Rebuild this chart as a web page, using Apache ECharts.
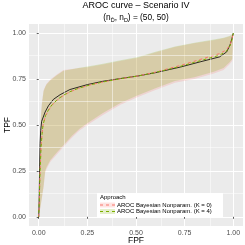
<!DOCTYPE html>
<html><head><meta charset="utf-8">
<script src="https://cdn.jsdelivr.net/npm/echarts@6/dist/echarts.min.js"></script>
<style>html,body{margin:0;padding:0;background:#fff}#c{width:245px;height:245px}</style>
</head><body><div id="c"></div>
<script>
// ---- data ----
const tickValues = [0, 0.25, 0.5, 0.75, 1];
const minorValues = [0.125, 0.375, 0.625, 0.875];

const trueFpf = [0, 0.002, 0.004, 0.007, 0.010, 0.015, 0.033, 0.05, 0.076, 0.11, 0.16, 0.25, 0.33, 0.42, 0.51, 0.60, 0.73, 0.83, 0.93, 0.966, 0.983, 0.993, 1];
const trueTpf = [0, 0.10, 0.25, 0.40, 0.47, 0.52, 0.571, 0.605, 0.64, 0.665, 0.693, 0.72, 0.738, 0.753, 0.767, 0.785, 0.816, 0.844, 0.871, 0.898, 0.935, 0.97, 1];

const k0Fpf = [0, 0.003, 0.007, 0.012, 0.017, 0.022, 0.035, 0.05, 0.068, 0.10, 0.127, 0.16, 0.204, 0.27, 0.333, 0.42, 0.51, 0.60, 0.73, 0.83, 0.93, 0.966, 0.985, 0.995, 1];
const k0Tpf = [0, 0.10, 0.25, 0.38, 0.45, 0.50, 0.55, 0.58, 0.608, 0.64, 0.66, 0.68, 0.699, 0.72, 0.735, 0.752, 0.767, 0.788, 0.825, 0.857, 0.889, 0.91, 0.94, 0.975, 1];

const k4Fpf = [0, 0.003, 0.007, 0.012, 0.017, 0.022, 0.035, 0.05, 0.068, 0.10, 0.127, 0.16, 0.204, 0.27, 0.333, 0.42, 0.51, 0.60, 0.73, 0.83, 0.93, 0.966, 0.985, 0.995, 1];
const k4Tpf = [0, 0.10, 0.25, 0.38, 0.45, 0.50, 0.552, 0.582, 0.61, 0.642, 0.662, 0.681, 0.70, 0.72, 0.735, 0.752, 0.767, 0.786, 0.82, 0.85, 0.88, 0.903, 0.935, 0.972, 1];

const bandFpf = [0, 0.003, 0.006, 0.011, 0.016, 0.025, 0.033, 0.04, 0.06, 0.093, 0.127, 0.17, 0.21, 0.25, 0.33, 0.42, 0.51, 0.60, 0.70, 0.80, 0.90, 0.95, 0.98, 0.995, 1];
const k0Upper = [0, 0.20, 0.40, 0.544, 0.617, 0.689, 0.71, 0.725, 0.748, 0.775, 0.80, 0.805, 0.81, 0.815, 0.83, 0.848, 0.866, 0.895, 0.925, 0.945, 0.962, 0.972, 0.982, 0.992, 1];
const k0Lower = [0, 0.02, 0.035, 0.065, 0.10, 0.16, 0.24, 0.26, 0.30, 0.34, 0.38, 0.43, 0.47, 0.50, 0.555, 0.61, 0.652, 0.69, 0.73, 0.75, 0.78, 0.80, 0.83, 0.85, 1];
const k4Upper = [0, 0.20, 0.40, 0.54, 0.612, 0.684, 0.705, 0.72, 0.744, 0.771, 0.796, 0.804, 0.812, 0.818, 0.834, 0.852, 0.87, 0.899, 0.928, 0.948, 0.965, 0.975, 0.984, 0.993, 1];
const k4Lower = [0, 0.025, 0.04, 0.07, 0.105, 0.17, 0.25, 0.27, 0.31, 0.35, 0.39, 0.44, 0.48, 0.51, 0.565, 0.62, 0.662, 0.70, 0.74, 0.76, 0.79, 0.81, 0.84, 0.86, 1];

const seriesNames = ['AROC Bayesian Nonparam. (K = 0)', 'AROC Bayesian Nonparam. (K = 4)'];
const seriesColors = ['#F8766D', '#7CAE00'];

// ---- helpers ----
const pairs = (xs, ys) => xs.map((x, i) => [x, ys[i]]);
function bandSeries(upper, lower, color) {
  return {
    type: 'custom', z: 2, silent: true,
    data: [[0, 0]],
    renderItem: function (params, api) {
      const pts = [];
      for (let i = 0; i < bandFpf.length; i++) pts.push(api.coord([bandFpf[i], upper[i]]));
      for (let i = bandFpf.length - 1; i >= 0; i--) pts.push(api.coord([bandFpf[i], lower[i]]));
      return { type: 'polygon', shape: { points: pts }, style: { fill: color, opacity: 0.2 } };
    }
  };
}
const FONT = 'Liberation Sans, Arial, sans-serif';
const axisCommon = {
  type: 'value', min: -0.05, max: 1.05,
  axisLine: { show: false },
  axisTick: { show: true, customValues: tickValues, length: 2, lineStyle: { color: '#333333', width: 0.8 } },
  axisLabel: { customValues: tickValues, formatter: v => v.toFixed(2), color: '#4D4D4D', fontSize: 7, fontFamily: FONT },
  splitLine: { show: true, lineStyle: { color: '#FFFFFF', width: 1 } },
  nameMoveOverlap: false,
  nameTextStyle: { color: '#000', fontSize: 8.5, fontFamily: FONT }
};

const chart = echarts.init(document.getElementById('c'), null, { renderer: 'canvas' });
chart.setOption({
  animation: false,
  backgroundColor: '#FFFFFF',
  grid: { left: 29, right: 2, top: 24, bottom: 19, show: true, backgroundColor: '#EBEBEB', borderWidth: 0, containLabel: false, outerBoundsMode: 'none' },
  xAxis: Object.assign({}, axisCommon, {
    name: 'FPF', nameLocation: 'middle', nameGap: 10,
    axisLabel: Object.assign({}, axisCommon.axisLabel, { margin: 4 })
  }),
  yAxis: Object.assign({}, axisCommon, {
    name: 'TPF', nameLocation: 'middle', nameGap: 17, nameRotate: 90,
    axisLabel: Object.assign({}, axisCommon.axisLabel, { margin: 3 })
  }),
  graphic: [
    { type: 'rect', shape: { x: 97, y: 193, width: 126, height: 24 }, style: { fill: '#FFFFFF' }, z: 10 },
    { type: 'text', x: 100, y: 194, z: 11, style: { text: 'Approach', font: '6px ' + FONT, fill: '#000' } },
    { type: 'rect', shape: { x: 100, y: 202.5, width: 15, height: 5 }, z: 11, style: { fill: 'rgba(248,118,109,0.2)' } },
    { type: 'line', shape: { x1: 100, y1: 205, x2: 115, y2: 205 }, z: 12, style: { stroke: seriesColors[0], lineWidth: 1, lineDash: [3, 3] } },
    { type: 'rect', shape: { x: 100, y: 209, width: 15, height: 5 }, z: 11, style: { fill: 'rgba(124,174,0,0.2)' } },
    { type: 'line', shape: { x1: 100, y1: 211.5, x2: 115, y2: 211.5 }, z: 12, style: { stroke: seriesColors[1], lineWidth: 1, lineDash: [3, 3] } },
    { type: 'text', x: 117, y: 202, z: 11, style: { text: seriesNames[0], font: '6px ' + FONT, fill: '#000' } },
    { type: 'text', x: 117, y: 208.5, z: 11, style: { text: seriesNames[1], font: '6px ' + FONT, fill: '#000' } }
  ],
  title: {
    text: 'AROC curve – Scenario IV',
    subtext: '(n{s|D\u0304}, n{s|D}) = (50, 50)',
    left: 136, top: 1, textAlign: 'center', itemGap: 3, padding: 0,
    textStyle: { fontSize: 9, fontWeight: 'normal', color: '#000', fontFamily: FONT },
    subtextStyle: { fontSize: 8.3, color: '#000', fontFamily: FONT, rich: { s: { fontSize: 5.5, padding: [4, 0, 0, 0], fontFamily: FONT, color: '#000' } } }
  },
  series: [
    {
      type: 'line', z: 1, silent: true, data: [], symbol: 'none',
      markLine: {
        silent: true, symbol: ['none', 'none'], label: { show: false },
        lineStyle: { color: '#FFFFFF', width: 0.5, type: 'solid' },
        data: minorValues.map(v => ({ xAxis: v })).concat(minorValues.map(v => ({ yAxis: v })))
      }
    },
    bandSeries(k0Upper, k0Lower, seriesColors[0]),
    bandSeries(k4Upper, k4Lower, seriesColors[1]),
    { type: 'line', z: 3, data: pairs(trueFpf, trueTpf), symbol: 'none', lineStyle: { color: '#000000', width: 0.8 } },
    { type: 'line', z: 4, name: seriesNames[0], data: pairs(k0Fpf, k0Tpf), symbol: 'none', lineStyle: { color: seriesColors[0], width: 1, type: [3, 3] } },
    { type: 'line', z: 5, name: seriesNames[1], data: pairs(k4Fpf, k4Tpf), symbol: 'none', lineStyle: { color: seriesColors[1], width: 1, type: [3, 3], dashOffset: 2 } }
  ]
});
</script></body></html>
